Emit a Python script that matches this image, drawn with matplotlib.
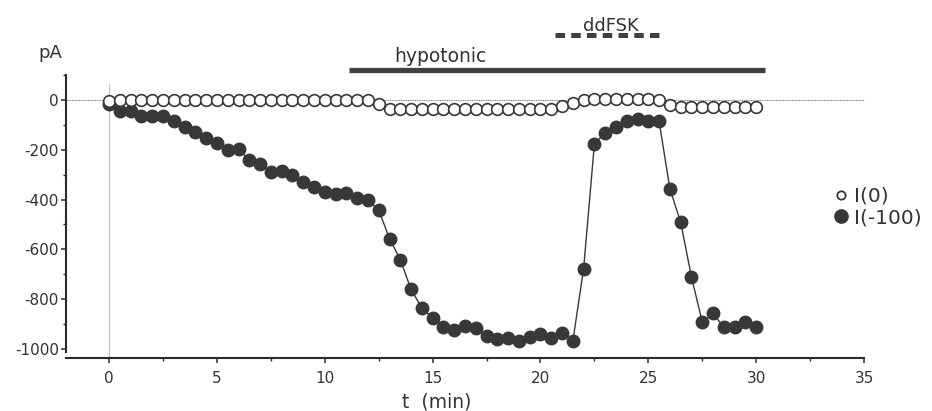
import matplotlib
matplotlib.use("Agg")
import matplotlib.pyplot as plt
from matplotlib.lines import Line2D
from matplotlib.ticker import MultipleLocator

# ---- data ----
t_min = [0, 0.5, 1, 1.5, 2, 2.5, 3, 3.5, 4, 4.5, 5, 5.5, 6, 6.5, 7, 7.5, 8, 8.5, 9, 9.5,
         10, 10.5, 11, 11.5, 12, 12.5, 13, 13.5, 14, 14.5, 15, 15.5, 16, 16.5, 17, 17.5,
         18, 18.5, 19, 19.5, 20, 20.5, 21, 21.5, 22, 22.5, 23, 23.5, 24, 24.5, 25, 25.5,
         26, 26.5, 27, 27.5, 28, 28.5, 29, 29.5, 30]

i_0 = [-3, 0, 0, 0, 0, 0, 0, 0, 0, 0, 0, 0, 0, 0, 0, 0, 0, 0, 0, 0,
       0, 0, 0, 0, 0, -17, -37, -38, -38, -38, -38, -38, -38, -38, -38, -38,
       -38, -38, -38, -38, -37, -35, -24, -12, 1, 2, 2, 2, 2, 2, 2, 1,
       -20, -27, -27, -27, -27, -27, -27, -27, -28]

i_m100 = [-18, -44, -46, -64, -66, -64, -86, -107, -128, -151, -172,
          -202, -198, -243, -257, -290, -287, -300, -330, -350, -370,
          -377, -375, -395, -402, -442, -557, -641, -761, -835, -875,
          -911, -922, -908, -914, -946, -958, -954, -967, -953, -940,
          -956, -936, -969, -677, -177, -131, -107, -86, -78, -84,
          -86, -357, -491, -711, -891, -857, -913, -913, -890, -911]

hypotonic_span = [11.1, 30.4]
ddfsk_span = [20.67, 25.78]
x_ticks = [0, 5, 10, 15, 20, 25, 30, 35]
y_ticks = [0, -200, -400, -600, -800, -1000]
series_labels = ["I(0)", "I(-100)"]

TXT = "#333333"
DARK = "#383838"

plt.rcParams['font.family'] = ['DejaVu Sans']

fig = plt.figure(figsize=(9.32, 4.11), dpi=100)
ax = fig.add_axes([66 / 932, 1 - 358 / 411, (864 - 66) / 932, (358 - 75) / 411])

ax.set_xlim(-2, 35)
ax.set_ylim(-1036, 100)

# reference lines
ax.plot([-2, 35], [0, 0], color="#8a8a8a", lw=0.8, ls=(0, (1, 0.6)), zorder=1, clip_on=False)
ax.plot([0, 0], [64, -1036], color="#9a9a9a", lw=0.8, ls=(0, (1, 0.6)), zorder=1, clip_on=False)

# data
ax.plot(t_min, i_m100, color=DARK, lw=1.0, marker='o', ms=9.0, mfc=DARK, mec=DARK,
        zorder=3, clip_on=False)
ax.plot(t_min, i_0, ls='none', marker='o', ms=8.4, mfc='white', mec=DARK, mew=1.2,
        zorder=4, clip_on=False)

# treatment bars
ax.plot(hypotonic_span, [122, 122], color="#404040", lw=3.8, solid_capstyle='butt',
        clip_on=False, zorder=2)
ax.plot(ddfsk_span, [260, 260], color="#404040", lw=3.6, ls=(0, (1.9, 1.25)),
        dash_capstyle='butt', clip_on=False, zorder=2)
ax.text(15.35, 152, "hypotonic", ha='center', va='baseline', fontsize=13.5, color=TXT)
ax.text(23.27, 276, "ddFSK", ha='center', va='baseline', fontsize=13, color=TXT)

# axes styling
for s in ['top', 'right']:
    ax.spines[s].set_visible(False)
ax.spines['left'].set_linewidth(1.5)
ax.spines['bottom'].set_linewidth(1.5)
ax.spines['left'].set_color("#2a2a2a")
ax.spines['bottom'].set_color("#2a2a2a")
ax.spines['left'].set_bounds(-1010, 100)

ax.set_xticks(x_ticks)
ax.set_xticklabels([str(v) for v in x_ticks])
ax.set_yticks(y_ticks)
ax.set_yticklabels([str(v) for v in y_ticks])
ax.xaxis.set_minor_locator(MultipleLocator(2.5))
ax.yaxis.set_minor_locator(MultipleLocator(100))
ax.tick_params(axis='both', which='major', direction='out', length=3.5, width=1.1,
               color="#2a2a2a", labelsize=11, labelcolor=TXT)
ax.tick_params(axis='both', which='minor', direction='out', length=2.2, width=1.0,
               color="#2a2a2a")
ax.tick_params(axis='x', which='major', pad=5.5)
ax.tick_params(axis='y', which='major', pad=1.5)

fig.text(50 / 932, 1 - 58 / 411, "pA", ha='center', va='baseline', fontsize=13, color=TXT)
fig.text(437 / 932, 1 - 402 / 411, "t  (min)", ha='center', va='center', fontsize=13.5, color=TXT)

# legend
handles = [Line2D([], [], ls='none', marker='o', ms=6, mfc='white', mec=DARK, mew=1.3),
           Line2D([], [], ls='none', marker='o', ms=9.5, mfc=DARK, mec=DARK)]
leg = fig.legend(handles, series_labels, loc='center left',
                 bbox_to_anchor=(834 / 932, 1 - 207 / 411), frameon=False,
                 handlelength=0.7, handletextpad=0.3, labelspacing=0.1,
                 borderpad=0, borderaxespad=0, fontsize=14.5)
for txt in leg.get_texts():
    txt.set_color(TXT)

fig.savefig("out.png", dpi=100, facecolor='white')
